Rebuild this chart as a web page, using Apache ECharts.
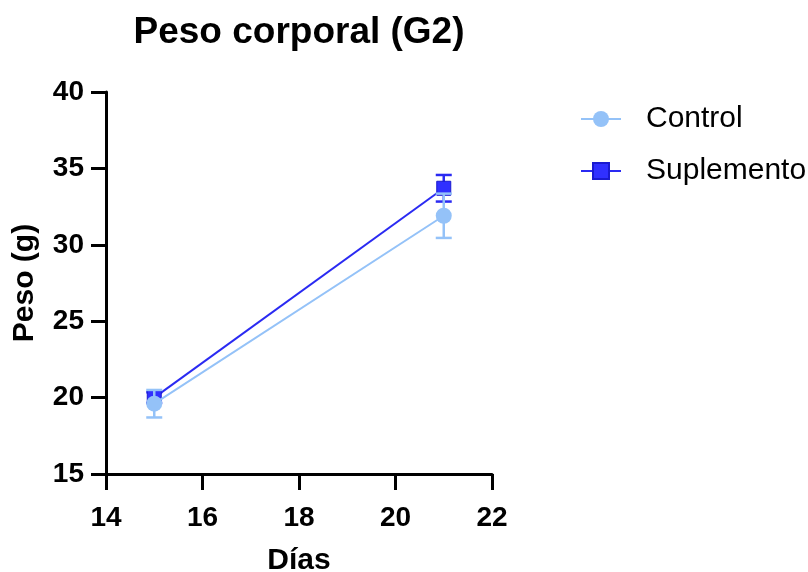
<!DOCTYPE html>
<html><head><meta charset="utf-8">
<script src="https://cdn.jsdelivr.net/npm/echarts@6/dist/echarts.min.js"></script>
<style>html,body{margin:0;padding:0;background:#fff}#c{width:808px;height:572px}</style>
</head><body><div id="c"></div>
<script>
const days = [15, 21];
const controlMean = [19.6, 31.9];
const controlSem = [0.9, 1.45];
const suplMean = [20.0, 33.7];
const suplSem = [0.35, 0.87];
const xTicks = [14, 16, 18, 20, 22];
const yTicks = [15, 20, 25, 30, 35, 40];

const cControl = '#94c2f8';
const cSupl = '#2a2af2';
const FONT = 'Liberation Sans, Arial, sans-serif';

function errData(mean, sem) {
  return days.map((d, i) => [d, mean[i] - sem[i], mean[i] + sem[i]]);
}
function errSeries(name, mean, sem, color, z) {
  return {
    type: 'custom', name: name + ' err', z: z, silent: true,
    data: errData(mean, sem),
    renderItem: function (params, api) {
      const lo = api.coord([api.value(0), api.value(1)]);
      const hi = api.coord([api.value(0), api.value(2)]);
      const hw = 8;
      const st = { stroke: color, lineWidth: 2.5 };
      return { type: 'group', children: [
        { type: 'line', shape: { x1: lo[0], y1: lo[1], x2: hi[0], y2: hi[1] }, style: st },
        { type: 'line', shape: { x1: lo[0] - hw, y1: lo[1], x2: lo[0] + hw, y2: lo[1] }, style: st },
        { type: 'line', shape: { x1: hi[0] - hw, y1: hi[1], x2: hi[0] + hw, y2: hi[1] }, style: st }
      ]};
    }
  };
}

const chart = echarts.init(document.getElementById('c'));
chart.setOption({
  animation: false,
  textStyle: { fontFamily: FONT },
  title: {
    text: 'Peso corporal (G2)', left: 294, top: 9, textAlign: 'center',
    textStyle: { fontFamily: FONT, fontSize: 37, fontWeight: 'bold', color: '#000' }
  },
  legend: {
    orient: 'vertical', left: 580, top: 104, itemWidth: 40, itemHeight: 20, itemGap: 22, padding: 0,
    data: ['Control', 'Suplemento'],
    textStyle: { fontFamily: FONT, fontSize: 30, color: '#000', padding: [0, 0, 0, 20], lineHeight: 30 }
  },
  grid: { left: 106, right: 316, top: 92, bottom: 98, containLabel: false, outerBoundsMode: 'none' },
  xAxis: {
    type: 'value', min: 14, max: 22, interval: 2,
    name: 'Días', nameLocation: 'middle', nameGap: 72,
    nameTextStyle: { fontFamily: FONT, fontSize: 30, fontWeight: 'bold', color: '#000' },
    axisLine: { onZero: false, lineStyle: { color: '#000', width: 3 } },
    axisTick: { length: 16, lineStyle: { color: '#000', width: 3 } },
    axisLabel: { margin: 30, fontFamily: FONT, fontSize: 28, fontWeight: 'bold', color: '#000',
      formatter: v => xTicks.includes(v) ? String(v) : '' },
    splitLine: { show: false }
  },
  yAxis: {
    type: 'value', min: 15, max: 40, interval: 5,
    name: 'Peso (g)', nameLocation: 'middle', nameGap: 66, nameRotate: 90,
    nameTextStyle: { fontFamily: FONT, fontSize: 30, fontWeight: 'bold', color: '#000' },
    axisLine: { show: true, onZero: false, lineStyle: { color: '#000', width: 3 } },
    axisTick: { show: true, length: 15, lineStyle: { color: '#000', width: 3 } },
    axisLabel: { margin: 22, fontFamily: FONT, fontSize: 28, fontWeight: 'bold', color: '#000',
      formatter: v => yTicks.includes(v) ? String(v) : '' },
    splitLine: { show: false }
  },
  series: [
    errSeries('Suplemento', suplMean, suplSem, cSupl, 2),
    {
      type: 'line', name: 'Suplemento', z: 3,
      data: days.map((d, i) => [d, suplMean[i]]),
      symbol: 'rect', symbolSize: 14,
      lineStyle: { color: cSupl, width: 2 },
      itemStyle: { color: '#3030ff', borderColor: '#1a1ad0', borderWidth: 1 }
    },
    errSeries('Control', controlMean, controlSem, cControl, 4),
    {
      type: 'line', name: 'Control', z: 5,
      data: days.map((d, i) => [d, controlMean[i]]),
      symbol: 'circle', symbolSize: 16,
      lineStyle: { color: cControl, width: 2 },
      itemStyle: { color: cControl }
    }
  ]
});
</script></body></html>
